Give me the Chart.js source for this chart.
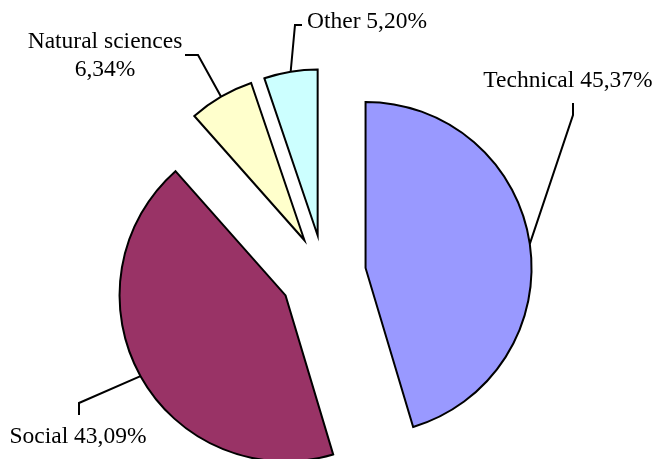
<!DOCTYPE html>
<html>
<head>
<meta charset="utf-8">
<script src="https://cdn.jsdelivr.net/npm/chart.js@4/dist/chart.umd.min.js"></script>
<style>
  html, body { margin: 0; padding: 0; background: #ffffff; overflow: hidden; }
  #wrap { width: 662px; height: 459px; }
</style>
</head>
<body>
<div id="wrap"><canvas id="myChartArea" width="662" height="459"></canvas></div>
<script>
var categorias = ['Technical', 'Social', 'Natural sciences', 'Other'];
var valores = [45.37, 43.09, 6.34, 5.20];
var rotulos = ['Technical 45,37%', 'Social 43,09%', 'Natural sciences\n6,34%', 'Other 5,20%'];
var cores = ['#9999FF', '#993366', '#FFFFCC', '#CCFFFF'];

// how far each slice is pulled out (px)
var afastamento = [42, 44, 39, 39];

// label text position + leader line bend points
var posRotulos = [
    { x: 568, y: 81, linha: [[573, 115], [573, 103]] },
    { x: 78, y: 437, linha: [[79, 403], [79, 415]] },
    { x: 105, y: 42, linha: [[198, 55], [185, 55]] },
    { x: 367, y: 22, linha: [[295, 25], [302, 25]] }
];

function pontoMedio(el, dx, dy) {
    const p = el.getProps(['x', 'y', 'startAngle', 'endAngle', 'outerRadius'], true);
    const meio = (p.startAngle + p.endAngle) / 2;
    return [p.x + dx + Math.cos(meio) * p.outerRadius, p.y + dy + Math.sin(meio) * p.outerRadius];
}

function deslocamento(el, i) {
    const p = el.getProps(['startAngle', 'endAngle'], true);
    const meio = (p.startAngle + p.endAngle) / 2;
    return [Math.cos(meio) * afastamento[i], Math.sin(meio) * afastamento[i]];
}

const explodir = {
    id: 'explodir',
    beforeDatasetDraw(chart, args) {
        const ctx = chart.ctx;
        args.meta.data.forEach(function (el, i) {
            const d = deslocamento(el, i);
            ctx.save();
            ctx.translate(d[0], d[1]);
            el.draw(ctx);
            ctx.restore();
        });
        return false;
    }
};

const rotulosPlugin = {
    id: 'rotulosPlugin',
    afterDatasetsDraw(chart) {
        const ctx = chart.ctx;
        const meta = chart.getDatasetMeta(0);
        ctx.save();
        ctx.strokeStyle = '#000000';
        ctx.lineWidth = 2;
        ctx.fillStyle = '#000000';
        ctx.font = '23.5px "Liberation Serif", "Times New Roman", serif';
        ctx.textAlign = 'center';
        ctx.textBaseline = 'middle';
        meta.data.forEach(function (el, i) {
            const d = deslocamento(el, i);
            const pt = pontoMedio(el, d[0], d[1]);
            const pos = posRotulos[i];
            ctx.beginPath();
            ctx.moveTo(pt[0], pt[1]);
            pos.linha.forEach(function (q) { ctx.lineTo(q[0], q[1]); });
            ctx.stroke();
            const linhas = rotulos[i].split('\n');
            linhas.forEach(function (t, k) {
                ctx.fillText(t, pos.x, pos.y + k * 28);
            });
        });
        ctx.restore();
    }
};

const ctxArea = document.getElementById('myChartArea');

var myChartArea = new Chart(ctxArea, {
    type: 'pie',
    data: {
        labels: categorias,
        datasets: [{
            data: valores,
            backgroundColor: cores,
            borderColor: '#000000',
            borderWidth: 2,
            borderJoinStyle: 'miter',
            clip: false
        }]
    },
    options: {
        responsive: false,
        animation: false,
        radius: 166,
        layout: {
            padding: { left: 0, right: 14, top: 89, bottom: 0 }
        },
        plugins: {
            legend: { display: false },
            tooltip: { enabled: false }
        }
    },
    plugins: [explodir, rotulosPlugin]
});
</script>
</body>
</html>
